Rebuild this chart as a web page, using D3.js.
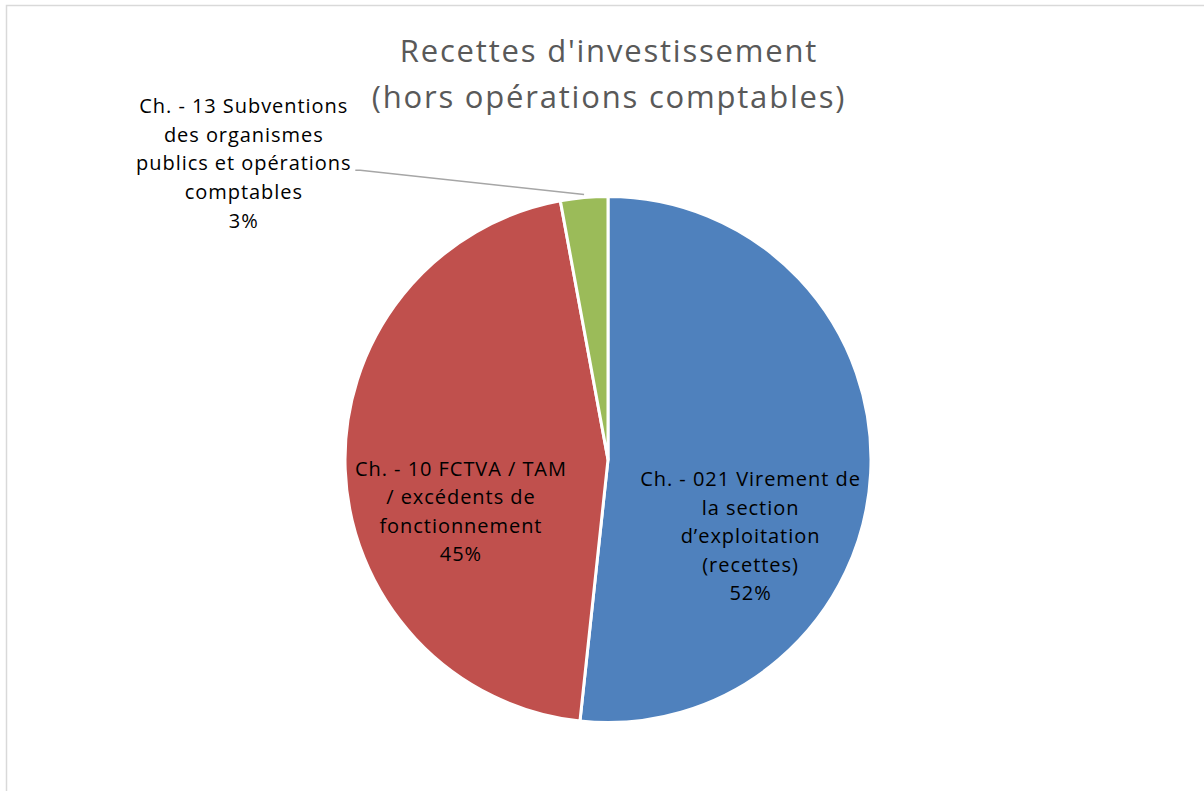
<!DOCTYPE html>
<html><head><meta charset="utf-8">
<script src="https://cdn.jsdelivr.net/npm/d3@7"></script>
<style>body{margin:0;background:#fff;}svg{display:block;}</style>
</head><body>
<script>
const titleLines = ["Recettes d'investissement", "(hors opérations comptables)"];
const categories = ["Ch. - 021 Virement de la section d’exploitation (recettes)",
  "Ch. - 10 FCTVA / TAM / excédents de fonctionnement",
  "Ch. - 13 Subventions des organismes publics et opérations comptables"];
const labelLines = [
  ["Ch. - 021 Virement de", "la section", "d’exploitation", "(recettes)"],
  ["Ch. - 10 FCTVA / TAM", "/ excédents de", "fonctionnement"],
  ["Ch. - 13 Subventions", "des organismes", "publics et opérations", "comptables"]
];
const values = [51.7, 45.4, 2.9];
const colors = ["#4f81bd", "#c0504d", "#9bbb59"];

const W = 1204, H = 791;
const svg = d3.select("body").append("svg").attr("width", W).attr("height", H);
svg.append("rect").attr("x", 6.5).attr("y", 5.5).attr("width", W).attr("height", H)
  .attr("fill", "#fff").attr("stroke", "#d9d9d9").attr("stroke-width", 1.5);

const font = "'Open Sans', sans-serif";
svg.append("text").attr("text-anchor", "middle")
  .attr("font-family", font).attr("font-size", 31).attr("fill", "#595959")
  .attr("letter-spacing", 1.8)
  .selectAll("tspan").data(titleLines).join("tspan")
  .attr("x", 609).attr("y", (d, i) => 62 + i * 45.5).text(d => d);

const cx = 608, cy = 459.5, r = 263;
const g = svg.append("g").attr("transform", `translate(${cx},${cy})`);
const pie = d3.pie().sort(null).value(d => d)(values);
const arc = d3.arc().innerRadius(0).outerRadius(r);
g.selectAll("path").data(pie).join("path")
  .attr("d", arc).attr("fill", (d, i) => colors[i])
  .attr("stroke", "#fff").attr("stroke-width", 3).attr("stroke-linejoin", "round");

const total = d3.sum(values);
const pct = v => d3.format(".0%")(v / total);
const inArc = d3.arc().innerRadius(r * 0.55).outerRadius(r * 0.55);
const lh = 28.6, fs = 20;
function drawLabel(x, midBaseline, lines) {
  const n = lines.length;
  const t = svg.append("text").attr("text-anchor", "middle")
    .attr("font-family", font).attr("font-size", fs).attr("fill", "#000")
    .attr("letter-spacing", 0.95);
  lines.forEach((l, i) => {
    t.append("tspan").attr("x", x + 0.5).attr("y", midBaseline + (i - (n - 1) / 2) * lh).text(l);
  });
}
// inside labels (blue, red), best-fit offsets from the centroid
const offs = [[-2.4, 76], [-3, 53.5]];
[0, 1].forEach(i => {
  const c = inArc.centroid(pie[i]);
  const lines = labelLines[i].concat([pct(values[i])]);
  drawLabel(cx + c[0] + offs[i][0], cy + c[1] + offs[i][1], lines);
});
// outside label (green) with leader
{
  const p = pie[2];
  const a = (p.startAngle + p.endAngle) / 2;
  const ex = cx + Math.sin(a) * r, ey = cy - Math.cos(a) * r;
  const lines = labelLines[2].concat([pct(values[2])]);
  const lx = 243.3, lmid = 170.3;
  drawLabel(lx, lmid, lines);
  svg.append("polyline")
    .attr("points", `${lx + 112},${lmid} ${lx + 117},${lmid} ${ex},${ey - 3}`)
    .attr("fill", "none").attr("stroke", "#a6a6a6").attr("stroke-width", 1.5);
}
</script>
</body></html>
